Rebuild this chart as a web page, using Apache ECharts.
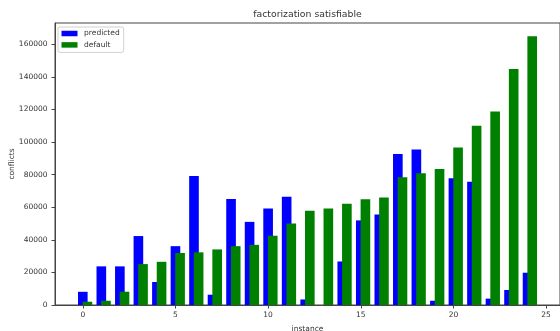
<!DOCTYPE html>
<html>
<head>
<meta charset="utf-8">
<script src="https://cdn.jsdelivr.net/npm/echarts@6/dist/echarts.min.js"></script>
<style>
  html, body { margin: 0; padding: 0; background: #fff; }
  #chart { width: 560px; height: 331px; }
</style>
</head>
<body>
<div id="chart"></div>
<script>
// Conflicts per instance for the factorization (satisfiable) benchmark
const instances = [0, 1, 2, 3, 4, 5, 6, 7, 8, 9, 10, 11, 12, 13, 14, 15, 16, 17, 18, 19, 20, 21, 22, 23, 24];
const predicted = [8100, 23700, 23700, 42300, 14100, 36100, 79200, 6300, 65100, 51000, 59200, 66400, 3400, 0,
                   26700, 51900, 55500, 92700, 95400, 2600, 77800, 75600, 3900, 9200, 19800];
const defaults  = [2000, 2600, 8150, 25100, 26500, 31900, 32300, 34100, 36100, 36900, 42500, 50000, 57800, 59200,
                   62100, 64900, 66000, 78400, 80900, 83500, 96600, 110000, 118700, 144800, 164800];
const xTicks = [0, 5, 10, 15, 20, 25];
const yTicks = [0, 20000, 40000, 60000, 80000, 100000, 120000, 140000, 160000];

const FONT = '"DejaVu Sans", sans-serif';
const BAR_W = 0.52;

// Bars are drawn in data units so they follow the value axis scale.
function barRenderer(offset) {
  return function (params, api) {
    const x = api.value(0);
    const y = api.value(1);
    const p0 = api.coord([x + offset - BAR_W / 2, 0]);
    const p1 = api.coord([x + offset + BAR_W / 2, y]);
    return {
      type: 'rect',
      shape: { x: p0[0], y: p1[1], width: p1[0] - p0[0], height: p0[1] - p1[1] },
      style: api.style()
    };
  };
}

const chart = echarts.init(document.getElementById('chart'), null, { renderer: 'canvas' });

chart.setOption({
  animation: false,
  backgroundColor: '#fff',
  textStyle: { fontFamily: FONT },
  grid: {
    left: 55, right: 0, top: 23, bottom: 26,
    containLabel: false,
    outerBoundsMode: 'none',
    show: true, borderColor: '#444', borderWidth: 1, backgroundColor: 'transparent'
  },
  graphic: [{
    type: 'text',
    x: 307.5, y: 15,
    style: {
      text: 'factorization satisfiable',
      font: '9.3px ' + FONT,
      fill: '#333',
      align: 'center',
      verticalAlign: 'middle'
    }
  }],
  legend: {
    orient: 'vertical',
    left: 58, top: 27,
    padding: [2, 4, 3, 3.5],
    itemGap: 2.4,
    itemWidth: 16, itemHeight: 5.5,
    icon: 'rect',
    borderColor: '#d0d0d0', borderWidth: 1, borderRadius: 2,
    backgroundColor: 'rgba(255,255,255,0.8)',
    textStyle: { fontSize: 7.5, color: '#333', fontFamily: FONT, lineHeight: 9, padding: [0, 0, 0, 1.6] },
    data: ['predicted', 'default']
  },
  xAxis: {
    type: 'value',
    min: -1.5, max: 25.75,
    name: 'instance', nameLocation: 'middle', nameGap: 20, nameMoveOverlap: false,
    nameTextStyle: { fontSize: 7.5, color: '#333', fontFamily: FONT },
    splitLine: { show: false },
    axisLine: { show: true, onZero: false, lineStyle: { color: '#444', width: 1 } },
    axisTick: { show: true, length: 3.5, lineStyle: { color: '#444' }, customValues: xTicks },
    axisLabel: {
      fontSize: 7.5, color: '#333', margin: 6, fontFamily: FONT,
      customValues: xTicks, formatter: v => String(v)
    }
  },
  yAxis: {
    type: 'value',
    min: 0, max: 173000,
    name: 'conflicts', nameLocation: 'middle', nameGap: 39, nameMoveOverlap: false,
    nameTextStyle: { fontSize: 7.5, color: '#333', fontFamily: FONT },
    splitLine: { show: false },
    axisLine: { show: true, onZero: false, lineStyle: { color: '#444', width: 1 } },
    axisTick: { show: true, length: 3.5, lineStyle: { color: '#444' }, customValues: yTicks },
    axisLabel: {
      fontSize: 7.5, color: '#333', margin: 7.5, fontFamily: FONT,
      customValues: yTicks, formatter: v => String(v)
    }
  },
  series: [
    {
      name: 'predicted',
      type: 'custom',
      renderItem: barRenderer(0),
      itemStyle: { color: '#0000ff' },
      encode: { x: 0, y: 1 },
      data: instances.map((x, i) => [x, predicted[i]])
    },
    {
      name: 'default',
      type: 'custom',
      renderItem: barRenderer(0.25),
      itemStyle: { color: '#008000' },
      encode: { x: 0, y: 1 },
      data: instances.map((x, i) => [x, defaults[i]])
    }
  ]
});
</script>
</body>
</html>
